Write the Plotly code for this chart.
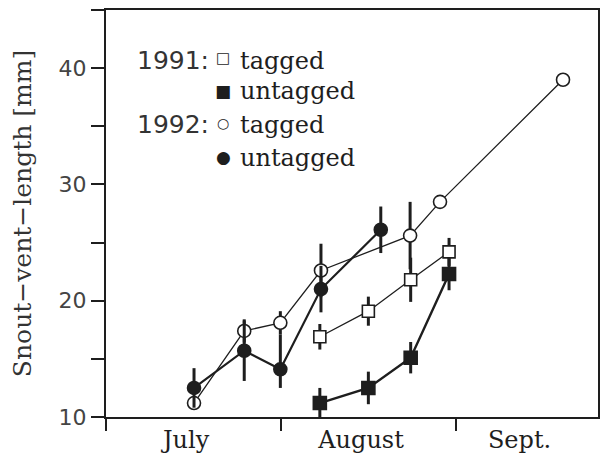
import plotly.graph_objects as go

# ---- data (x = days since 1 July) ----
days_1992_tagged = [15.6, 24.5, 30.9, 38.1, 53.9, 59.2, 81.0]
svl_1992_tagged = [11.2, 17.4, 18.1, 22.6, 25.6, 28.5, 39.0]
err_1992_tagged = [0.5, 1.0, 1.0, 2.3, 2.9, 0.0, 0.0]

days_1992_untagged = [15.6, 24.5, 30.9, 38.1, 48.7]
svl_1992_untagged = [12.5, 15.7, 14.1, 21.0, 26.1]
err_up_1992_untagged = [1.7, 2.6, 3.0, 2.0, 2.0]
err_dn_1992_untagged = [1.7, 2.6, 1.6, 2.0, 2.0]

days_1991 = [37.9, 46.5, 54.0, 60.8]
svl_1991_tagged = [16.9, 19.1, 21.8, 24.2]
err_1991_tagged = [1.1, 1.25, 1.9, 1.2]
svl_1991_untagged = [11.2, 12.5, 15.1, 22.3]
err_1991_untagged = [1.3, 1.4, 1.35, 1.4]

month_starts = [0, 31, 62]
month_labels = ["July", "August", "Sept."]
month_label_days = [14.2, 45.2, 73.3]

y_tick_vals = [10, 15, 20, 25, 30, 35, 40, 45]
y_tick_text = ["10", "", "20", "", "30", "", "40", ""]

INK = "#1e1e1e"
SERIF = "DejaVu Serif"
SANS = "DejaVu Sans"

fig = go.Figure()

def add(x, y, sym, fill, lw, ms, err_up, err_dn=None, mlw=1.6):
    ey = dict(type="data", array=err_up, visible=True, color=INK, thickness=3, width=0)
    if err_dn is not None:
        ey["arrayminus"] = err_dn
        ey["symmetric"] = False
    fig.add_trace(go.Scatter(
        x=x, y=y, mode="lines+markers",
        line=dict(color=INK, width=lw),
        marker=dict(symbol=sym, size=ms, color=fill, line=dict(color=INK, width=mlw)),
        error_y=ey, showlegend=False, cliponaxis=False))

add(days_1992_tagged, svl_1992_tagged, "circle", "white", 1.3, 13, err_1992_tagged)
add(days_1991, svl_1991_tagged, "square", "white", 1.3, 12, err_1991_tagged)
add(days_1992_untagged, svl_1992_untagged, "circle", INK, 2.2, 13, err_up_1992_untagged, err_dn_1992_untagged)
add(days_1991, svl_1991_untagged, "square", INK, 2.4, 13, err_1991_untagged)

# hidden trace to activate the label axis
fig.add_trace(go.Scatter(x=[month_label_days[0]], y=[10], xaxis="x2", mode="markers",
                         marker=dict(opacity=0), showlegend=False, hoverinfo="skip"))

L, R, T, B = 106, 6, 10, 36
W, H = 604, 453
pw, ph = W - L - R, H - T - B

def px(xp):
    return (xp - L) / pw

def py(yp):
    return (H - B - yp) / ph

ann = []
def text(s, x, y, size, font, anchor="left", color=INK):
    ann.append(dict(text=s, x=px(x), y=py(y), xref="paper", yref="paper",
                    xanchor=anchor, yanchor="middle", showarrow=False,
                    font=dict(family=font, size=size, color=color)))

text("1991:", 211, 60, 25, SANS, "right", "#333")
text("1992:", 211, 124, 25, SANS, "right", "#333")
text("□", 223, 58, 15, SANS, "center")
text("■", 223, 91, 17, SANS, "center")
text("○", 223, 123, 14, SANS, "center")
text("●", 223, 157, 17, SANS, "center")
text("tagged", 238, 61, 24, SERIF)
text("untagged", 238, 91, 24, SERIF)
text("tagged", 238, 125, 24, SERIF)
text("untagged", 238, 158, 24, SERIF)

fig.update_layout(
    width=W, height=H, margin=dict(l=L, r=R, t=T, b=B, autoexpand=False),
    paper_bgcolor="white", plot_bgcolor="white",
    annotations=ann,
    xaxis=dict(range=[0, 87.2], tickvals=month_starts, ticktext=["", "", ""],
               ticks="outside", ticklen=12, tickwidth=2, tickcolor=INK,
               showline=True, linecolor=INK, linewidth=2, mirror=True,
               showgrid=False, zeroline=False, automargin=False),
    xaxis2=dict(range=[0, 87.2], overlaying="x", side="bottom", anchor="y",
                tickvals=month_label_days, ticktext=month_labels, ticks="",
                ticklabelstandoff=6, automargin=False,
                showline=False, showgrid=False, zeroline=False,
                tickfont=dict(family=SERIF, size=24, color=INK)),
    yaxis=dict(range=[10, 45], tickvals=y_tick_vals, ticktext=y_tick_text,
               ticks="outside", ticklen=13, tickwidth=2, tickcolor=INK,
               showline=True, linecolor=INK, linewidth=2, mirror=True,
               showgrid=False, zeroline=False, automargin=False,
               tickfont=dict(family=SANS, size=22, color="#444"),
               title=dict(text="Snout−vent−length [mm]", standoff=20,
                          font=dict(family=SERIF, size=25, color="#333"))),
)

fig.write_html("out.html", config={"displayModeBar": False},
               post_script="document.body.style.margin='0';")
